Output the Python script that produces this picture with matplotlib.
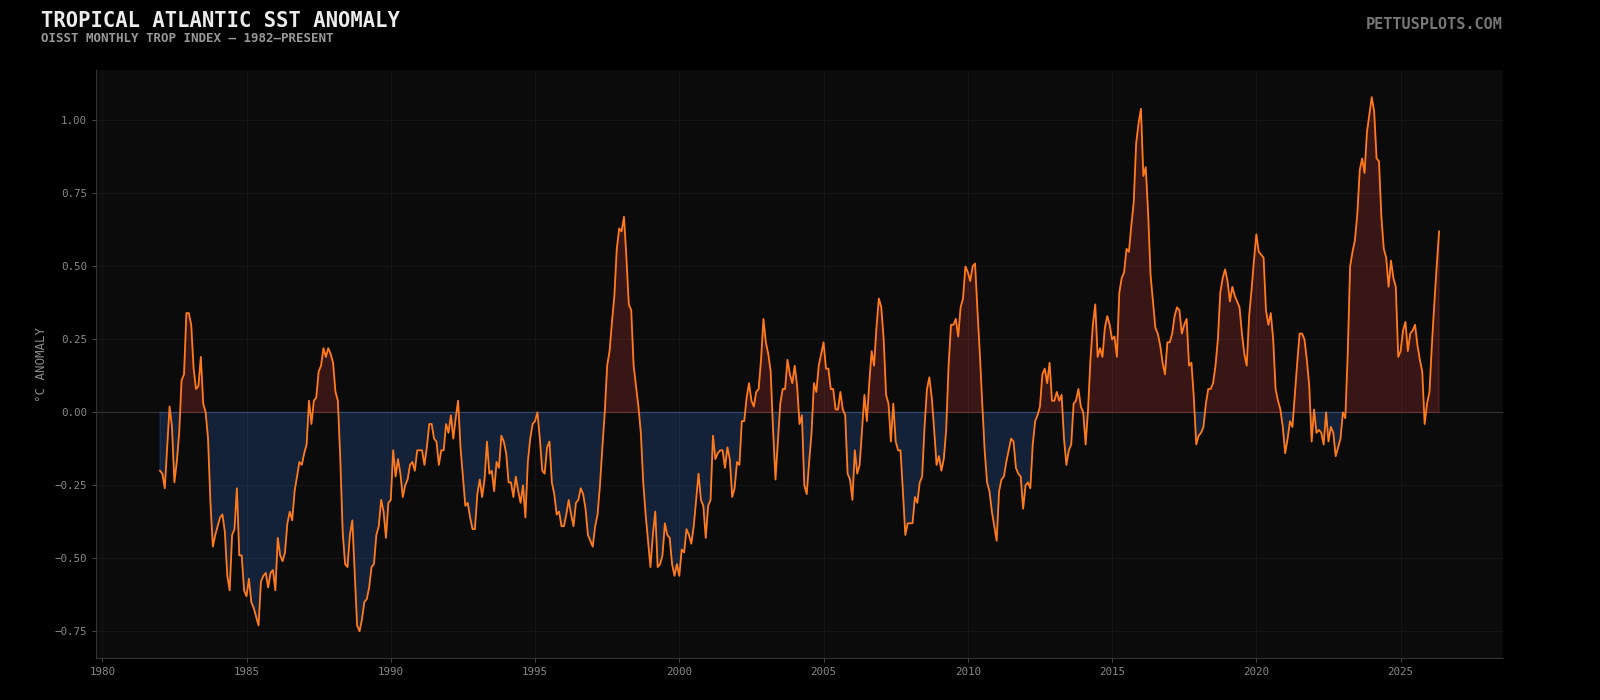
import numpy as np
import matplotlib
matplotlib.use("Agg")
import matplotlib.pyplot as plt
from matplotlib.ticker import FuncFormatter

# ---------------- data (monthly anomalies, °C, starting Jan 1982) ----------------
start_year = 1982

anom_1982_1986 = [
    -0.20, -0.21, -0.26, -0.12, 0.02, -0.05, -0.24, -0.17, -0.07, 0.11, 0.13, 0.34,
    0.34, 0.30, 0.15, 0.08, 0.09, 0.19, 0.03, 0.00, -0.09, -0.31, -0.46, -0.42,
    -0.39, -0.36, -0.35, -0.41, -0.56, -0.61, -0.42, -0.40, -0.26, -0.49, -0.49, -0.61,
    -0.63, -0.57, -0.65, -0.67, -0.70, -0.73, -0.58, -0.56, -0.55, -0.60, -0.55, -0.54,
    -0.61, -0.43, -0.49, -0.51, -0.48, -0.38, -0.34, -0.37, -0.27, -0.22, -0.17, -0.18,
]
anom_1987_1991 = [
    -0.14, -0.11, 0.04, -0.04, 0.04, 0.05, 0.14, 0.16, 0.22, 0.19, 0.22, 0.20,
    0.17, 0.07, 0.04, -0.16, -0.41, -0.52, -0.53, -0.42, -0.37, -0.55, -0.73, -0.75,
    -0.71, -0.65, -0.64, -0.60, -0.53, -0.52, -0.42, -0.39, -0.30, -0.34, -0.43, -0.31,
    -0.30, -0.13, -0.22, -0.16, -0.21, -0.29, -0.25, -0.23, -0.18, -0.17, -0.20, -0.13,
    -0.13, -0.13, -0.18, -0.12, -0.04, -0.04, -0.09, -0.10, -0.18, -0.13, -0.13, -0.04,
]
anom_1992_1996 = [
    -0.07, -0.01, -0.09, -0.02, 0.04, -0.12, -0.22, -0.32, -0.31, -0.36, -0.40, -0.40,
    -0.28, -0.23, -0.29, -0.23, -0.10, -0.21, -0.20, -0.27, -0.17, -0.19, -0.08, -0.10,
    -0.14, -0.24, -0.24, -0.29, -0.22, -0.27, -0.31, -0.25, -0.36, -0.17, -0.09, -0.04,
    -0.03, 0.00, -0.09, -0.20, -0.21, -0.12, -0.10, -0.24, -0.28, -0.35, -0.34, -0.39,
    -0.39, -0.35, -0.30, -0.35, -0.39, -0.31, -0.30, -0.26, -0.28, -0.33, -0.42, -0.44,
]
anom_1997_2001 = [
    -0.46, -0.39, -0.35, -0.25, -0.12, 0.00, 0.16, 0.21, 0.31, 0.40, 0.56, 0.63,
    0.62, 0.67, 0.53, 0.37, 0.35, 0.16, 0.09, 0.02, -0.07, -0.24, -0.35, -0.44,
    -0.53, -0.42, -0.34, -0.53, -0.52, -0.49, -0.38, -0.42, -0.43, -0.52, -0.56, -0.52,
    -0.56, -0.47, -0.48, -0.40, -0.42, -0.45, -0.39, -0.30, -0.21, -0.30, -0.32, -0.43,
    -0.32, -0.30, -0.08, -0.16, -0.14, -0.13, -0.13, -0.19, -0.12, -0.16, -0.29, -0.26,
]
anom_2002_2006 = [
    -0.17, -0.18, -0.03, -0.03, 0.05, 0.10, 0.04, 0.02, 0.07, 0.08, 0.18, 0.32,
    0.24, 0.20, 0.14, -0.06, -0.23, -0.10, 0.03, 0.08, 0.08, 0.18, 0.13, 0.10,
    0.16, 0.09, -0.04, -0.01, -0.25, -0.28, -0.17, -0.07, 0.10, 0.07, 0.16, 0.20,
    0.24, 0.15, 0.15, 0.08, 0.08, 0.01, 0.01, 0.07, 0.01, -0.01, -0.21, -0.23,
    -0.30, -0.13, -0.21, -0.18, -0.06, 0.06, -0.03, 0.10, 0.21, 0.16, 0.29, 0.39,
]
anom_2007_2011 = [
    0.36, 0.25, 0.06, 0.03, -0.10, 0.03, -0.10, -0.13, -0.13, -0.27, -0.42, -0.38,
    -0.38, -0.38, -0.29, -0.31, -0.24, -0.22, -0.05, 0.08, 0.12, 0.05, -0.06, -0.18,
    -0.15, -0.20, -0.16, -0.06, 0.16, 0.30, 0.30, 0.32, 0.26, 0.36, 0.39, 0.50,
    0.48, 0.45, 0.50, 0.51, 0.35, 0.20, 0.03, -0.13, -0.24, -0.27, -0.34, -0.39,
    -0.44, -0.27, -0.23, -0.22, -0.17, -0.13, -0.09, -0.10, -0.19, -0.21, -0.22, -0.33,
]
anom_2012_2016 = [
    -0.25, -0.24, -0.26, -0.11, -0.03, -0.01, 0.02, 0.13, 0.15, 0.10, 0.17, 0.04,
    0.04, 0.07, 0.04, 0.06, -0.09, -0.18, -0.13, -0.11, 0.03, 0.04, 0.08, 0.02,
    0.00, -0.11, 0.01, 0.18, 0.30, 0.37, 0.19, 0.22, 0.19, 0.29, 0.33, 0.30,
    0.25, 0.26, 0.19, 0.41, 0.46, 0.48, 0.56, 0.55, 0.64, 0.72, 0.92, 0.99,
    1.04, 0.81, 0.84, 0.68, 0.47, 0.38, 0.29, 0.27, 0.23, 0.17, 0.13, 0.24,
]
anom_2017_2021 = [
    0.24, 0.27, 0.33, 0.36, 0.35, 0.27, 0.30, 0.32, 0.16, 0.17, 0.05, -0.11,
    -0.08, -0.07, -0.05, 0.03, 0.08, 0.08, 0.10, 0.16, 0.25, 0.41, 0.46, 0.49,
    0.45, 0.38, 0.43, 0.40, 0.38, 0.36, 0.27, 0.20, 0.16, 0.33, 0.42, 0.52,
    0.61, 0.55, 0.54, 0.53, 0.35, 0.30, 0.34, 0.25, 0.08, 0.04, 0.01, -0.05,
    -0.14, -0.09, -0.03, -0.05, 0.06, 0.17, 0.27, 0.27, 0.25, 0.18, 0.09, -0.10,
]
anom_2022_2026 = [
    0.01, -0.07, -0.06, -0.07, -0.11, 0.00, -0.10, -0.05, -0.07, -0.15, -0.12, -0.09,
    0.00, -0.02, 0.20, 0.50, 0.55, 0.59, 0.68, 0.83, 0.87, 0.82, 0.96, 1.02,
    1.08, 1.03, 0.87, 0.86, 0.67, 0.56, 0.53, 0.43, 0.52, 0.46, 0.43, 0.19,
    0.21, 0.28, 0.31, 0.21, 0.27, 0.28, 0.30, 0.23, 0.18, 0.14, -0.04, 0.03,
    0.07, 0.23, 0.37, 0.50, 0.62,
]

x_ticks = [1980, 1985, 1990, 1995, 2000, 2005, 2010, 2015, 2020, 2025]
y_ticks = [-0.75, -0.50, -0.25, 0.00, 0.25, 0.50, 0.75, 1.00]

title = "TROPICAL ATLANTIC SST ANOMALY"
subtitle = "OISST MONTHLY TROP INDEX \u2014 1982\u2013PRESENT"
credit = "PETTUSPLOTS.COM"
ylabel = "\u00b0C ANOMALY"

values = np.array(anom_1982_1986 + anom_1987_1991 + anom_1992_1996 + anom_1997_2001
                  + anom_2002_2006 + anom_2007_2011 + anom_2012_2016 + anom_2017_2021
                  + anom_2022_2026)
dates = start_year + np.arange(len(values)) / 12.0

# ---------------- figure ----------------
MONO = "DejaVu Sans Mono"
fig = plt.figure(figsize=(16, 7), dpi=100, facecolor="#000000")
ax = fig.add_axes([0.06, 0.06, 0.8794, 0.8394])
ax.set_facecolor("#0b0b0b")

ax.axhline(0, color="#333333", lw=0.8, zorder=1)
ax.fill_between(dates, values, 0, where=values >= 0, interpolate=True,
                color="#ef4444", alpha=0.2, lw=1, zorder=2)
ax.fill_between(dates, values, 0, where=values <= 0, interpolate=True,
                color="#3b82f6", alpha=0.2, lw=1, zorder=2)
ax.plot(dates, values, color="#ff7a1a", lw=1.3, zorder=3)

ax.set_xticks(x_ticks)
ax.set_yticks(y_ticks)
ax.yaxis.set_major_formatter(FuncFormatter(lambda v, p: f"{v:.2f}".replace("-", "\u2212")))
ax.grid(True, color="#171717", lw=0.6, zorder=0)
ax.set_axisbelow(True)

for s in ["top", "right"]:
    ax.spines[s].set_visible(False)
for s in ["left", "bottom"]:
    ax.spines[s].set_color("#333333")
    ax.spines[s].set_linewidth(0.8)

ax.tick_params(colors="#555555", labelcolor="#888888", labelsize=7.8, length=3, width=0.6)
for lab in ax.get_xticklabels() + ax.get_yticklabels():
    lab.set_family(MONO)

ax.set_ylabel(ylabel, color="#888888", fontsize=9, family=MONO, labelpad=5)

fig.text(0.0254, 0.961, title, color="#ececec", fontsize=14.8, fontweight="bold",
         family=MONO, ha="left", va="baseline")
fig.text(0.0254, 0.940, subtitle, color="#999999", fontsize=9, fontweight="bold",
         family=MONO, ha="left", va="baseline")
fig.text(0.9394, 0.959, credit, color="#777777", fontsize=11, fontweight="bold",
         family=MONO, ha="right", va="baseline")

fig.savefig("out.png", dpi=100, facecolor=fig.get_facecolor())
